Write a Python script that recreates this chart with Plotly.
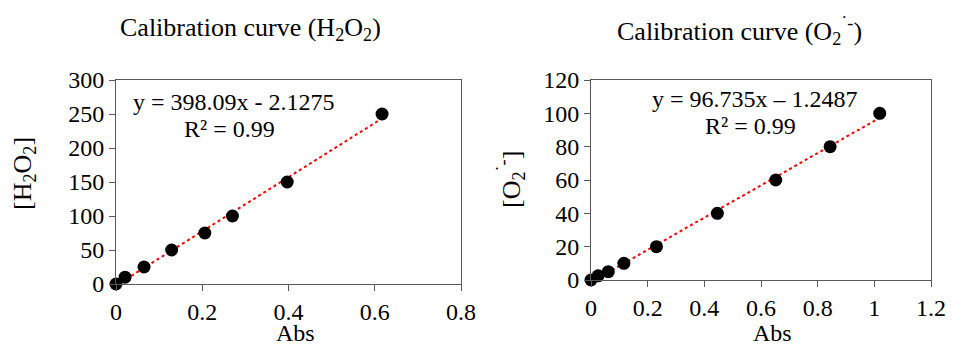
import plotly.graph_objects as go

# Data
h2o2_abs = [0.0, 0.021, 0.065, 0.129, 0.206, 0.270, 0.397, 0.617]
h2o2_conc = [0, 10, 25, 50, 75, 100, 150, 250]
h2o2_slope, h2o2_icpt = 398.09, -2.1275

o2_abs = [0.0, 0.025, 0.061, 0.116, 0.231, 0.446, 0.652, 0.844, 1.019]
o2_conc = [0, 2.5, 5, 10, 20, 40, 60, 80, 100]
o2_slope, o2_icpt = 96.735, -1.2487

# page body has an 8px margin on each side: keep figure inside the window
OFF = 8
W, H = 954 - 2 * OFF, 354 - 2 * OFF
FONT = "Liberation Serif"
AX = "#595959"

def px(x):
    return (x - OFF) / W

def py(y):
    return 1 - (y - OFF) / H

fig = go.Figure()

def fit_line(xs, m, b):
    x0, x1 = min(xs), max(xs)
    return [x0, x1], [m * x0 + b, m * x1 + b]

# left chart
lx, ly = fit_line(h2o2_abs, h2o2_slope, h2o2_icpt)
fig.add_trace(go.Scatter(x=lx, y=ly, mode="lines", line=dict(color="#ff0000", width=2, dash="dot"),
                         xaxis="x", yaxis="y", showlegend=False))
fig.add_trace(go.Scatter(x=h2o2_abs, y=h2o2_conc, mode="markers",
                         marker=dict(color="black", size=13), xaxis="x", yaxis="y",
                         showlegend=False, cliponaxis=False))
# right chart
rx, ry = fit_line(o2_abs, o2_slope, o2_icpt)
fig.add_trace(go.Scatter(x=rx, y=ry, mode="lines", line=dict(color="#ff0000", width=2, dash="dot"),
                         xaxis="x2", yaxis="y2", showlegend=False))
fig.add_trace(go.Scatter(x=o2_abs, y=o2_conc, mode="markers",
                         marker=dict(color="black", size=13), xaxis="x2", yaxis="y2",
                         showlegend=False, cliponaxis=False))

common = dict(showline=True, linecolor=AX, linewidth=1, mirror=True, ticks="outside",
              ticklen=6, tickcolor=AX, showgrid=False, zeroline=False, automargin=False,
              tickfont=dict(family=FONT, size=24, color="black"))

fig.update_layout(
    width=W, height=H, margin=dict(l=0, r=0, t=0, b=0, autoexpand=False),
    paper_bgcolor="white", plot_bgcolor="white",
    font=dict(family=FONT, color="black"),
    xaxis=dict(domain=[px(116), px(461)], range=[0, 0.8], dtick=0.2, anchor="y", **common),
    yaxis=dict(domain=[py(284), py(80)], range=[0, 300], dtick=50, anchor="x", **common),
    xaxis2=dict(domain=[px(591), px(931)], range=[0, 1.2], dtick=0.2, anchor="y2", **common),
    yaxis2=dict(domain=[py(280), py(80)], range=[0, 120], dtick=20, anchor="x2", **common),
)

ann = []
def add(text, x, y, size=20, angle=0):
    ann.append(dict(text=text, x=px(x), y=py(y), xref="paper", yref="paper",
                    showarrow=False, xanchor="center", yanchor="middle", textangle=angle,
                    borderpad=0, font=dict(family=FONT, size=size, color="black")))

add("Calibration curve (H<sub>2</sub>O<sub>2</sub>)", 251, 29, 26)
add("Calibration curve (O<sub>2</sub><sup>˙-</sup>)", 739, 31, 26)
add("y = 398.09x - 2.1275", 234, 102, 24)
add("R² = 0.99", 229, 129, 24)
add("y = 96.735x – 1.2487", 755, 99, 24)
add("R² = 0.99", 750, 126, 24)
add("[H<sub>2</sub>O<sub>2</sub>]", 24, 174, 26, -90)
add("[O<sub>2</sub><sup>˙-</sup>]", 511, 180, 26, -90)
add("Abs", 295, 333, 24)
add("Abs", 772, 333, 24)
fig.update_layout(annotations=ann)

fig.write_html("out.html")
